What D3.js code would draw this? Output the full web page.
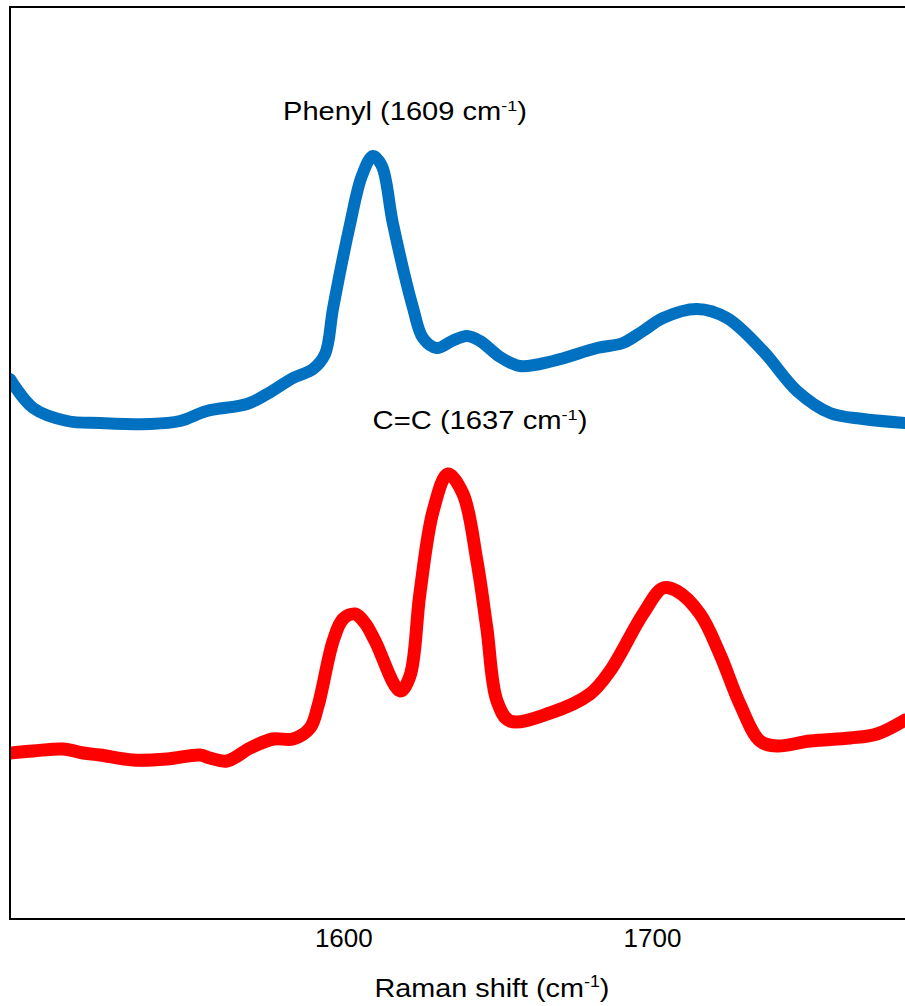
<!DOCTYPE html>
<html>
<head>
<meta charset="utf-8">
<script src="https://cdn.jsdelivr.net/npm/d3@7"></script>
<style>
  body { margin: 0; background: #fff; }
  text { font-family: Arial, "Liberation Sans", sans-serif; fill: #000; }
</style>
</head>
<body>
<svg id="chart" width="905" height="1006"></svg>
<script>
// ---- //
// Data //
// ---- //

// Raman shift (cm-1) and intensity (a.u.)
const phenylShift = [1492.0, 1499.5, 1510.5, 1521.2, 1537.4, 1547.1, 1555.8, 1568.8, 1575.3, 1583.7,
  1590.2, 1594.1, 1596.7, 1602.2, 1606.0, 1609.6, 1612.5, 1616.1, 1622.6, 1625.8,
  1630.3, 1635.2, 1640.1, 1644.3, 1650.8, 1657.2, 1667.9, 1682.2, 1690.6, 1697.1,
  1703.6, 1714.6, 1724.3, 1736.0, 1747.0, 1757.7, 1768.4, 1782.0];
const phenylIntensity = [540, 511, 498, 496, 495, 498, 508, 515, 525, 541,
  550, 565, 611, 695, 743, 763, 753, 695, 611, 581,
  571, 578, 583, 578, 562, 553, 558, 571, 576, 588,
  601, 610, 601, 568, 528, 506, 500, 496];

const ccShift = [1492.0, 1499.5, 1509.2, 1515.7, 1521.2, 1531.9, 1542.9, 1553.6, 1556.8, 1562.3,
  1569.8, 1577.2, 1583.7, 1589.2, 1591.8, 1596.7, 1599.9, 1603.8, 1607.0, 1610.3,
  1618.4, 1621.6, 1624.8, 1629.1, 1633.9, 1638.8, 1643.3, 1646.5, 1649.8, 1654.0,
  1667.0, 1679.9, 1686.4, 1697.1, 1703.6, 1708.1, 1715.6, 1722.0, 1728.5, 1735.0,
  1740.5, 1751.2, 1764.2, 1772.9, 1782.0];
const ccIntensity = [166, 168, 170, 166, 164, 159, 160, 164, 161, 158,
  171, 180, 180, 191, 213, 278, 300, 305, 296, 278,
  228, 243, 325, 408, 445, 425, 358, 291, 218, 198,
  206, 225, 248, 305, 331, 328, 305, 265, 215, 178,
  173, 178, 181, 185, 199];

const xTicks = [1600, 1700];

// ------ //
// Layout //
// ------ //

const svg = d3.select("#chart");
const plot = { left: 10, top: 7, right: 905, bottom: 919 };

const x = d3.scaleLinear().domain([1492, 1782]).range([plot.left, plot.right]);
const y = d3.scaleLinear().domain([0, 912]).range([plot.bottom, plot.top]);

const line = d3.line()
    .x(d => x(d[0]))
    .y(d => y(d[1]))
    .curve(d3.curveCatmullRom.alpha(0.5));

svg.append("clipPath").attr("id", "clip")
  .append("rect")
    .attr("x", plot.left + 1).attr("y", plot.top)
    .attr("width", 1000).attr("height", plot.bottom - plot.top);

const series = [
  { xs: phenylShift, ys: phenylIntensity, color: "#0070C0", width: 12 },
  { xs: ccShift, ys: ccIntensity, color: "#FF0000", width: 13 }
];

svg.append("g").attr("clip-path", "url(#clip)")
  .selectAll("path")
  .data(series)
  .join("path")
    .attr("d", s => line(d3.zip(s.xs, s.ys)))
    .attr("fill", "none")
    .attr("stroke", s => s.color)
    .attr("stroke-width", s => s.width)
    .attr("stroke-linejoin", "round")
    .attr("stroke-linecap", "round");

// frame (right side runs off the picture)
svg.append("path")
    .attr("d", `M${plot.right + 20},${plot.top}H${plot.left}V${plot.bottom}H${plot.right + 20}`)
    .attr("fill", "none")
    .attr("stroke", "#000")
    .attr("stroke-width", 2);

// x axis, labels only
const xAxis = svg.append("g")
    .attr("transform", `translate(0,${plot.bottom})`)
    .call(d3.axisBottom(x).tickValues(xTicks).tickSize(0).tickPadding(10).tickFormat(d3.format("d")));
xAxis.select(".domain").remove();
xAxis.selectAll("text")
    .attr("font-size", 26)
    .attr("font-family", "Arial, 'Liberation Sans', sans-serif")
    .attr("fill", "#000");

// text with a "-1" superscript, stretched to a given width
function supLabel(cx, baseline, before, fontSize, targetWidth) {
  const g = svg.append("g");
  const t = g.append("text")
      .attr("text-anchor", "middle")
      .attr("font-size", fontSize);
  t.append("tspan").text(before);
  t.append("tspan").attr("font-size", fontSize * 0.62).attr("dy", -fontSize * 0.38).text("-1");
  t.append("tspan").attr("dy", fontSize * 0.38).text(")");
  const w = t.node().getBBox().width;
  g.attr("transform", `translate(${cx},${baseline}) scale(${targetWidth / w},1)`);
}

supLabel(405, 120, "Phenyl (1609 cm", 25, 244);
supLabel(480, 429, "C=C (1637 cm", 25, 215);
supLabel(492, 997, "Raman shift (cm", 26, 235);
</script>
</body>
</html>
